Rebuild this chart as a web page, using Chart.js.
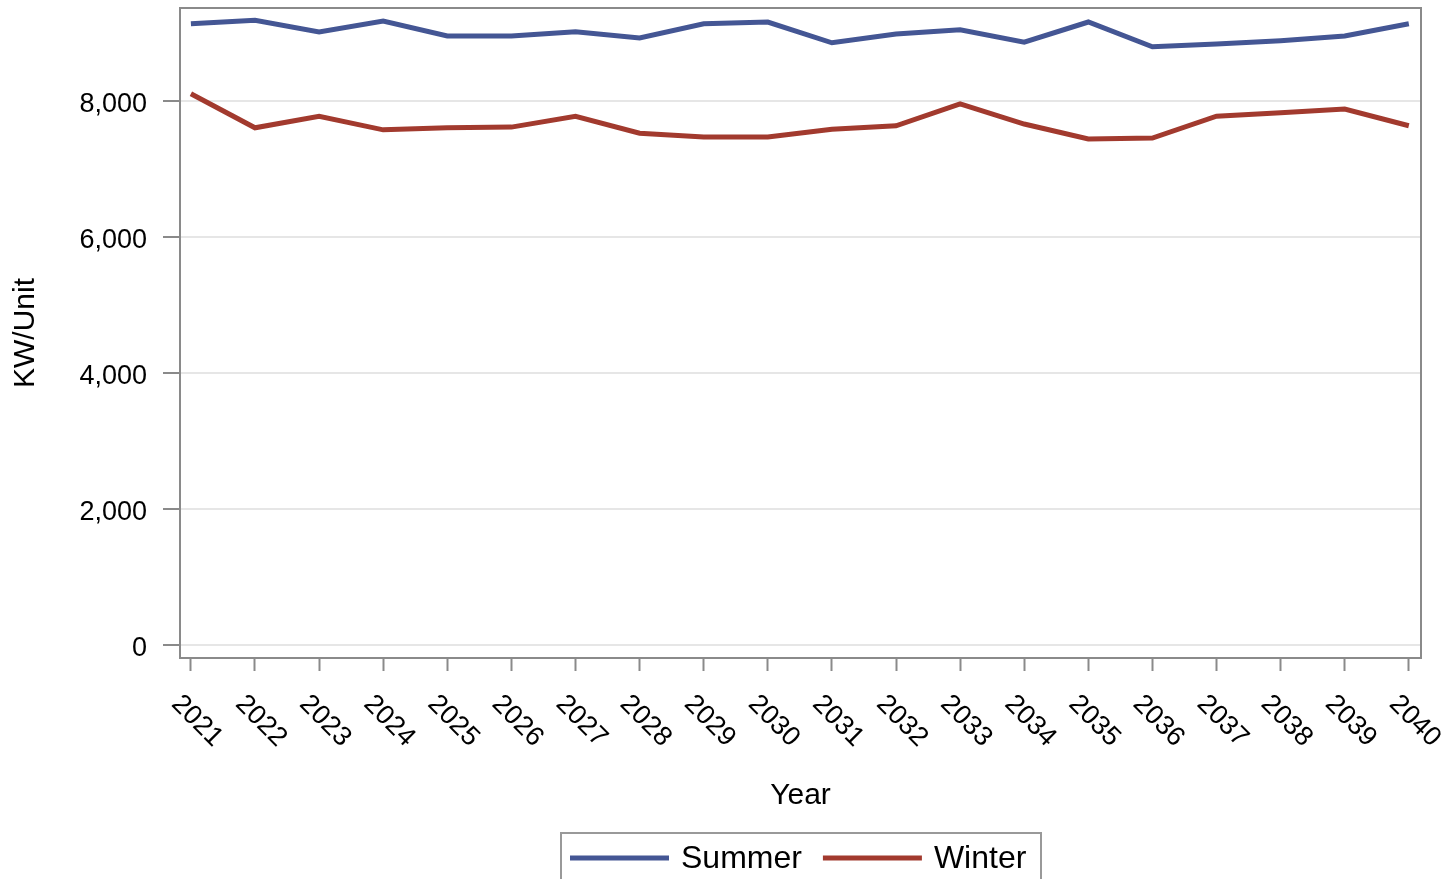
<!DOCTYPE html>
<html>
<head>
<meta charset="utf-8">
<script src="https://cdn.jsdelivr.net/npm/chart.js@4.4.1/dist/chart.umd.min.js"></script>
<style>
  html, body { margin: 0; padding: 0; background: #fff; }
</style>
</head>
<body>
<canvas id="mychart" width="1452" height="879"></canvas>
<script>
// chart data
const years = [2021, 2022, 2023, 2024, 2025, 2026, 2027, 2028, 2029, 2030,
               2031, 2032, 2033, 2034, 2035, 2036, 2037, 2038, 2039, 2040];
const summer = [9140, 9190, 9020, 9180, 8960, 8960, 9020, 8930, 9140, 9165,
                8860, 8990, 9050, 8870, 9165, 8800, 8840, 8890, 8960, 9140];
const winter = [8110, 7610, 7780, 7580, 7610, 7620, 7780, 7530, 7475, 7475,
                7590, 7640, 7960, 7665, 7445, 7460, 7780, 7830, 7885, 7640];
const yTicks = [0, 2000, 4000, 6000, 8000];
const seriesNames = ["Summer", "Winter"];
const seriesColors = ["#445694", "#a23a2e"];

const FONT = '"Liberation Sans", Arial, sans-serif';
const AXIS_GRAY = "#8a8a8a";

// frame round the plot, rotated year labels, boxed legend
const extras = {
  id: "extras",
  beforeDatasetsDraw(chart) {
    const ctx = chart.ctx, a = chart.chartArea;
    ctx.save();
    ctx.strokeStyle = AXIS_GRAY;
    ctx.lineWidth = 2;
    ctx.strokeRect(a.left, a.top, a.right - a.left, a.bottom - a.top);
    ctx.restore();
  },
  afterDraw(chart) {
    const ctx = chart.ctx;
    const xs = chart.scales.x;
    ctx.save();
    ctx.fillStyle = "#000";
    ctx.font = "27px " + FONT;
    ctx.textAlign = "center";
    ctx.textBaseline = "middle";
    years.forEach(yr => {
      const px = xs.getPixelForValue(yr);
      ctx.save();
      ctx.translate(px + 6, 721);
      ctx.rotate(Math.PI / 4);
      ctx.fillText(String(yr), 0, 0);
      ctx.restore();
    });

    // legend
    ctx.strokeStyle = "#999";
    ctx.lineWidth = 2;
    ctx.strokeRect(561, 833, 480, 70);
    ctx.font = "32px " + FONT;
    ctx.textAlign = "left";
    let x = 570;
    const ly = 858;
    chart.data.datasets.forEach(ds => {
      ctx.strokeStyle = ds.borderColor;
      ctx.lineWidth = 5;
      ctx.beginPath();
      ctx.moveTo(x, ly);
      ctx.lineTo(x + 99, ly);
      ctx.stroke();
      x += 111;
      ctx.fillStyle = "#000";
      ctx.fillText(ds.label, x, ly + 1);
      x += ctx.measureText(ds.label).width + 21;
    });
    ctx.restore();
  }
};

const datasets = seriesNames.map((name, i) => ({
  label: name,
  data: years.map((yr, j) => ({ x: yr, y: (i === 0 ? summer : winter)[j] })),
  borderColor: seriesColors[i],
  backgroundColor: seriesColors[i],
  borderWidth: 5,
  pointRadius: 0,
  tension: 0,
  fill: false
}));

const ctx = document.getElementById("mychart").getContext("2d");
const mychart = new Chart(ctx, {
  type: "line",
  data: { datasets: datasets },
  options: {
    responsive: false,
    animation: false,
    layout: { padding: { top: 8, right: 31, left: 0, bottom: 0 } },
    plugins: {
      legend: { display: false },
      tooltip: { enabled: false }
    },
    scales: {
      x: {
        type: "linear",
        min: 2020.83,
        max: 2040.19,
        afterBuildTicks: s => { s.ticks = years.map(v => ({ value: v })); },
        afterFit: s => { s.height = 221; s.paddingLeft = 0; s.paddingRight = 0; },
        ticks: { display: false },
        grid: {
          drawOnChartArea: false,
          tickLength: 13,
          tickColor: AXIS_GRAY,
          tickWidth: 2
        },
        border: { display: false },
        title: {
          display: true,
          text: "Year",
          color: "#000",
          font: { family: FONT, size: 30 },
          padding: { top: 0, bottom: 65 }
        }
      },
      y: {
        min: -184,
        max: 9371,
        afterBuildTicks: s => { s.ticks = yTicks.map(v => ({ value: v })); },
        afterFit: s => { s.width = 180; s.paddingTop = 0; s.paddingBottom = 0; },
        ticks: {
          color: "#000",
          padding: 16,
          labelOffset: 3,
          font: { family: FONT, size: 27 },
          callback: v => v.toLocaleString("en-US")
        },
        grid: {
          color: "#e6e6e6",
          lineWidth: 2,
          tickLength: 17,
          tickColor: AXIS_GRAY,
          tickWidth: 2
        },
        border: { display: false },
        title: {
          display: true,
          text: "KW/Unit",
          color: "#000",
          font: { family: FONT, size: 30 },
          padding: { top: 8, bottom: 0 }
        }
      }
    }
  },
  plugins: [extras]
});
</script>
</body>
</html>
